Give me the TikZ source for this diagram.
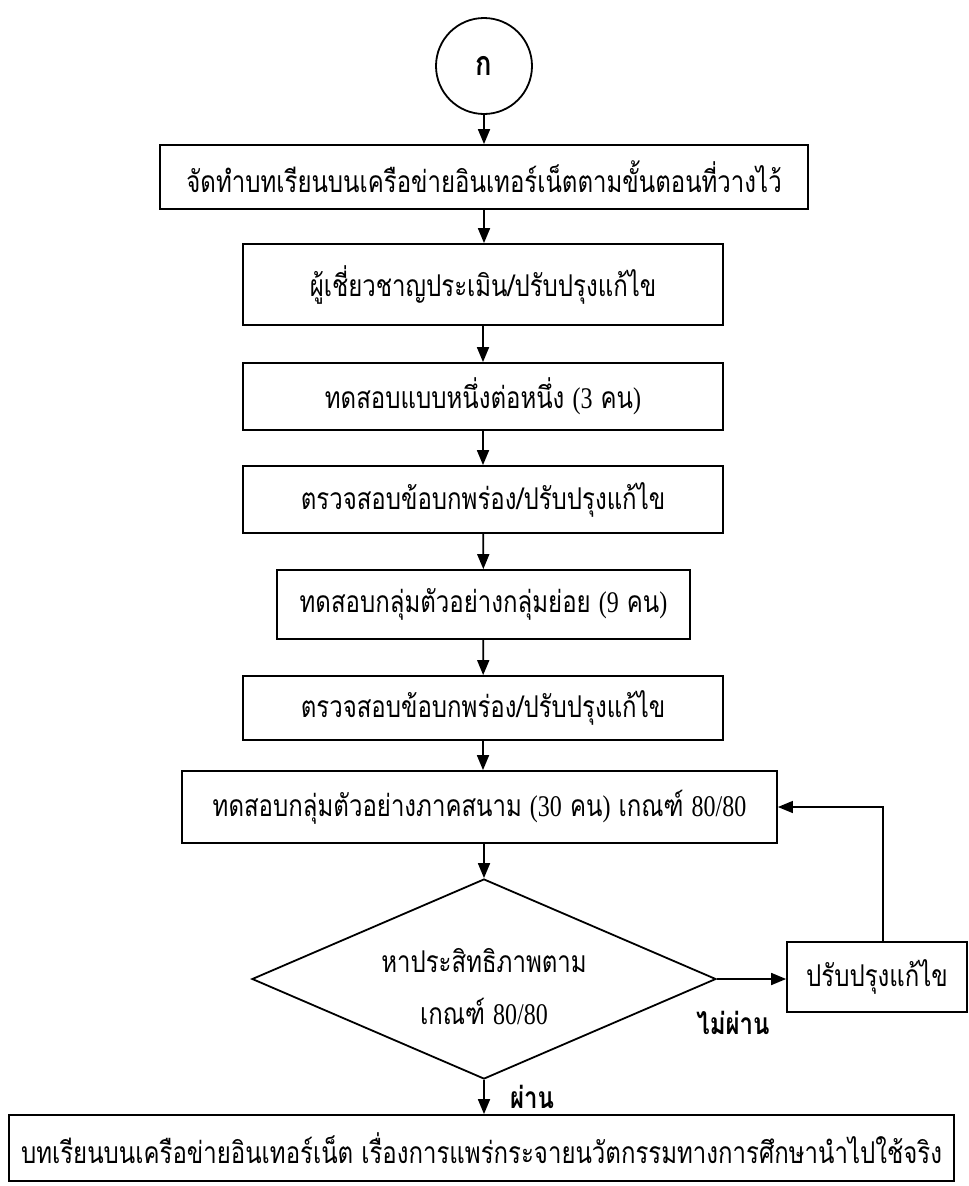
\documentclass[tikz,border=0pt]{standalone}
\usepackage{fontspec}
\setmainfont{Liberation Serif}[FakeStretch=0.8]
\newfontfamily\thaif[Script=Thai, FakeStretch=0.8]{Loma}
\usetikzlibrary{arrows.meta,shapes.geometric}
\newcommand\latn[1]{{\rmfamily #1}}
\tikzset{
  box/.style={draw, line width=1.8pt, inner sep=0pt, align=center,
    font=\thaif\fontsize{30}{36}\selectfont},
  txt/.style={inner sep=0pt, font=\thaif\fontsize{30}{36}\selectfont},
  bold/.style={inner sep=0pt, font=\thaif\bfseries\fontsize{30}{36}\selectfont},
  arr/.style={-{Triangle[length=15pt,width=12pt]}, line width=1.8pt},
  fbline/.style={-{Triangle[length=15pt,width=12pt]}, line width=1.4pt},
}
\begin{document}
\begin{tikzpicture}[x=1pt,y=-1pt]
\useasboundingbox (0,0) rectangle (969,1186);
\node[box, circle, minimum size=96pt, font=\thaif\bfseries\fontsize{34}{40}\selectfont] (c) at (484,66) {ก};
\node[box, minimum width=648pt, minimum height=64pt] (b1) at (484,177) {จัดทำบทเรียนบนเครือข่ายอินเทอร์เน็ตตามขั้นตอนที่วางไว้};
\node[box, minimum width=480pt, minimum height=81pt] (b2) at (483,284.5) {ผู้เชี่ยวชาญประเมิน/ปรับปรุงแก้ไข};
\node[box, minimum width=480pt, minimum height=67pt] (b3) at (483,396.5) {ทดสอบแบบหนึ่งต่อหนึ่ง \latn{(3} คน\latn{)}};
\node[box, minimum width=480pt, minimum height=67pt] (b4) at (483,499.5) {ตรวจสอบข้อบกพร่อง/ปรับปรุงแก้ไข};
\node[box, minimum width=413pt, minimum height=69pt] (b5) at (483.5,604.5) {ทดสอบกลุ่มตัวอย่างกลุ่มย่อย \latn{(9} คน\latn{)}};
\node[box, minimum width=480pt, minimum height=64pt] (b6) at (483,708) {ตรวจสอบข้อบกพร่อง/ปรับปรุงแก้ไข};
\node[box, minimum width=595pt, minimum height=72pt] (b7) at (479.5,807) {ทดสอบกลุ่มตัวอย่างภาคสนาม \latn{(30} คน\latn{)} เกณฑ์ \latn{80/80}};
\node[box, diamond, shape aspect=2.32, minimum width=464pt, minimum height=200pt] (d) at (484,979) {};
\node[txt] (d1) at (484,961) {หาประสิทธิภาพตาม};
\node[txt] (d2) at (484,1011) {เกณฑ์ \latn{80/80}};
\node[box, minimum width=180pt, minimum height=70pt] (fix) at (877,977) {ปรับปรุงแก้ไข};
\node[box, minimum width=945pt, minimum height=66pt] (b8) at (481.5,1148) {บทเรียนบนเครือข่ายอินเทอร์เน็ต เรื่องการแพร่กระจายนวัตกรรมทางการศึกษานำไปใช้จริง};
\node[bold] (no) at (733,1023) {ไม่ผ่าน};
\node[bold] (yes) at (532,1097) {ผ่าน};
\coordinate (fb) at (883,807);
\draw[arr] (c) -- (b1);
\draw[arr] (b1) -- (b1 |- b2.north);
\draw[arr] (b2) -- (b3);
\draw[arr] (b3) -- (b4);
\draw[arr] (b4) -- (b5);
\draw[arr] (b5) -- (b6);
\draw[arr] (b6.south) -- (b6.south |- b7.north);
\draw[arr] (d.north |- b7.south) -- (d.north);
\draw[arr] (d.east) -- (fix.west |- d.east);
\draw[arr] (d.south) -- (d.south |- b8.north);
\draw[fbline] (fix.north -| fb) |- (b7.east);
\end{tikzpicture}
\end{document}
